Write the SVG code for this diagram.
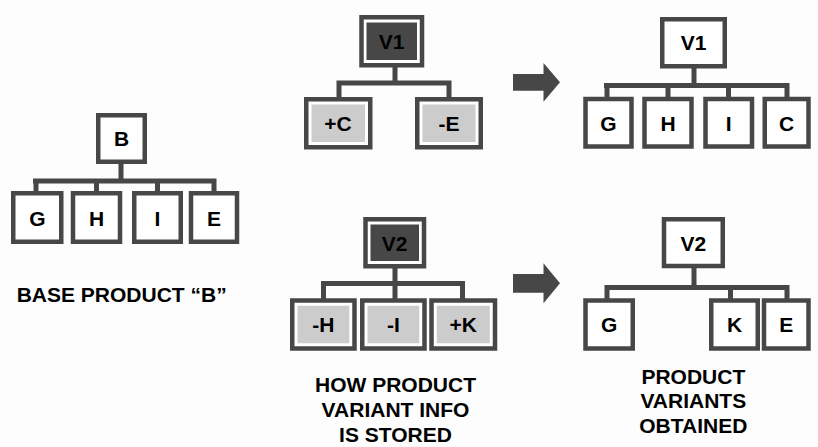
<svg xmlns="http://www.w3.org/2000/svg" width="818" height="447" viewBox="0 0 818 447">
<style>
.bg{fill:#fdfdfd}
.box{fill:#ffffff;stroke:#474747;stroke-width:4.5}
.dark{fill:#474747}
.light{fill:#cccccc}
.conn{stroke:#474747;stroke-width:5;fill:none}
.t{font-family:"Liberation Sans",Arial,Helvetica,sans-serif;font-weight:bold;font-size:21px;fill:#000;text-anchor:middle}
.arrow{fill:#474747}
</style>
<rect class="bg" x="0" y="0" width="818" height="447"/>

<g id="connectors">
  <!-- base tree -->
  <path class="conn" d="M121,162 V181 M33,181 H216.5 M36,181 V192 M96.5,181 V192 M157.5,181 V192 M214,181 V192"/>
  <!-- V1 stored tree -->
  <path class="conn" d="M395,66 V83 M336.5,83 H451.5 M339,83 V98 M449,83 V98"/>
  <!-- V1 result tree -->
  <path class="conn" d="M694,66 V85.5 M604,85.5 H789.5 M607,85.5 V98 M668,85.5 V98 M728.5,85.5 V98 M787,85.5 V98"/>
  <!-- V2 stored tree -->
  <path class="conn" d="M395,266 V299 M321,283.5 H465 M323.5,283.5 V299 M462.5,283.5 V299"/>
  <!-- V2 result tree -->
  <path class="conn" d="M694,266 V287.5 M604.5,287.5 H789.5 M607,287.5 V299 M730.5,287.5 V299 M787,287.5 V299"/>
</g>

<g id="arrows">
  <polygon class="arrow" points="513,74 543.5,74 543.5,63 560,82.3 543.5,101.7 543.5,90.7 513,90.7"/>
  <polygon class="arrow" points="513,274 543.5,274 543.5,263.3 560,283.3 543.5,303.3 543.5,292.7 513,292.7"/>
</g>

<!-- Base product tree -->
<g id="node-B"><rect class="box" x="98.25" y="115.25" width="46.5" height="46.5"/><text class="t" x="121.5" y="146">B</text></g>
<g id="node-base-G"><rect class="box" x="13.25" y="193.25" width="48" height="48.5"/><text class="t" x="37.5" y="226">G</text></g>
<g id="node-base-H"><rect class="box" x="73" y="193.25" width="47" height="48.5"/><text class="t" x="96.5" y="226">H</text></g>
<g id="node-base-I"><rect class="box" x="134.25" y="193.25" width="46.5" height="48.5"/><text class="t" x="157.5" y="226">I</text></g>
<g id="node-base-E"><rect class="box" x="191" y="193.25" width="46" height="48.5"/><text class="t" x="214" y="226">E</text></g>

<!-- V1 stored -->
<g id="node-V1-stored"><rect class="box" x="361.5" y="17.25" width="60.5" height="48"/><rect class="dark" x="366.5" y="22.5" width="50.5" height="37.5"/><text class="t" x="391.7" y="49">V1</text></g>
<g id="node-plusC"><rect class="box" x="306.25" y="99.25" width="64" height="48"/><rect class="light" x="311.5" y="104.5" width="53.5" height="37.5"/><text class="t" x="338" y="130.5">+C</text></g>
<g id="node-minusE"><rect class="box" x="417.25" y="99.25" width="63.5" height="48"/><rect class="light" x="422.5" y="104.5" width="53" height="37.5"/><text class="t" x="449" y="130.5">-E</text></g>

<!-- V1 result -->
<g id="node-V1-result"><rect class="box" x="662.25" y="19.25" width="62.5" height="47"/><text class="t" x="693.5" y="50">V1</text></g>
<g id="node-V1-G"><rect class="box" x="585.5" y="99" width="46" height="47.5"/><text class="t" x="608.5" y="130.5">G</text></g>
<g id="node-V1-H"><rect class="box" x="644.5" y="99" width="47" height="47.5"/><text class="t" x="668" y="130.5">H</text></g>
<g id="node-V1-I"><rect class="box" x="705.5" y="99" width="46.5" height="47.5"/><text class="t" x="728.7" y="130.5">I</text></g>
<g id="node-V1-C"><rect class="box" x="764.75" y="99" width="43.75" height="47.5"/><text class="t" x="786.6" y="130.5">C</text></g>

<!-- V2 stored -->
<g id="node-V2-stored"><rect class="box" x="365.5" y="219.25" width="58.5" height="47"/><rect class="dark" x="370.5" y="224.5" width="48.5" height="36.5"/><text class="t" x="394.7" y="250.5">V2</text></g>
<g id="node-minusH"><rect class="box" x="292.25" y="300.5" width="62.25" height="48"/><rect class="light" x="297.5" y="305.75" width="51.75" height="37.5"/><text class="t" x="323.4" y="332">-H</text></g>
<g id="node-minusI"><rect class="box" x="362.25" y="300.5" width="62.25" height="48"/><rect class="light" x="367.5" y="305.75" width="51.75" height="37.5"/><text class="t" x="393.4" y="332">-I</text></g>
<g id="node-plusK"><rect class="box" x="431.5" y="300.5" width="63.5" height="48"/><rect class="light" x="436.75" y="305.75" width="53" height="37.5"/><text class="t" x="463.3" y="332">+K</text></g>

<!-- V2 result -->
<g id="node-V2-result"><rect class="box" x="664" y="219.25" width="58.75" height="46.75"/><text class="t" x="693.4" y="250.5">V2</text></g>
<g id="node-V2-G"><rect class="box" x="585.5" y="300.5" width="47.25" height="48"/><text class="t" x="609.1" y="332">G</text></g>
<g id="node-V2-K"><rect class="box" x="711.25" y="300.5" width="46.5" height="48"/><text class="t" x="734.5" y="332">K</text></g>
<g id="node-V2-E"><rect class="box" x="764" y="300.5" width="44.5" height="48"/><text class="t" x="786.2" y="332">E</text></g>

<!-- captions -->
<g id="caption-base"><text class="t" x="121.7" y="301.7">BASE PRODUCT “B”</text></g>
<g id="caption-stored"><text class="t" x="395.5" y="391.7">HOW PRODUCT</text><text class="t" x="395.5" y="416.7">VARIANT INFO</text><text class="t" x="395.5" y="441.7">IS STORED</text></g>
<g id="caption-obtained"><text class="t" x="693.3" y="384">PRODUCT</text><text class="t" x="693.3" y="408.3">VARIANTS</text><text class="t" x="693.3" y="433.3">OBTAINED</text></g>
</svg>
